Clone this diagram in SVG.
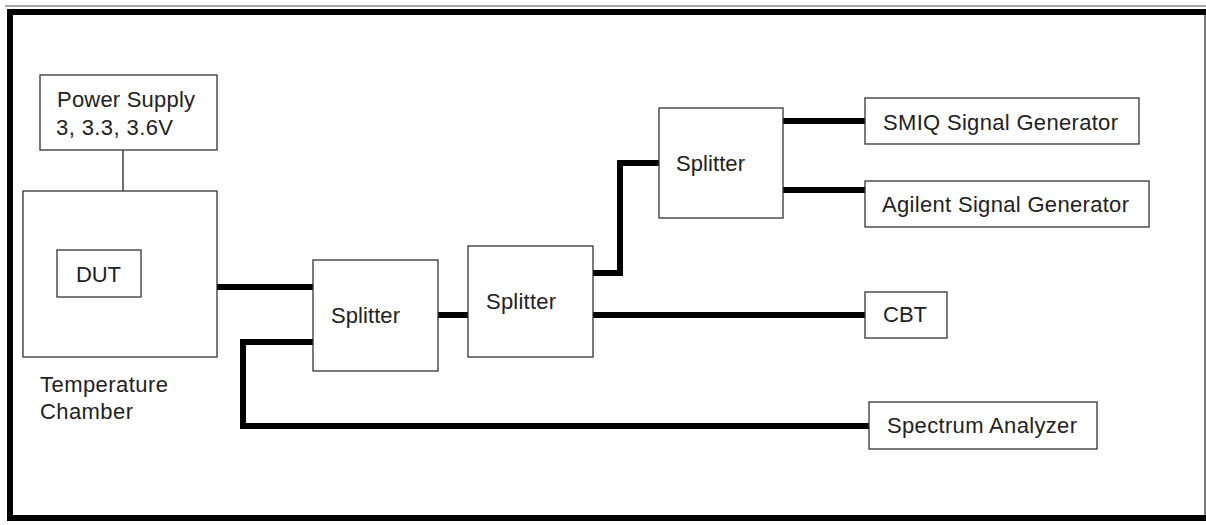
<svg xmlns="http://www.w3.org/2000/svg" width="1206" height="525" viewBox="0 0 1206 525">
<style>
.box{fill:#fff;stroke:#333;stroke-width:1.3}
.t{font-family:"Liberation Sans",Arial,sans-serif;font-size:22px;fill:#222}
.thick{fill:none;stroke:#000;stroke-width:6;stroke-linejoin:miter}
.thin{fill:none;stroke:#222;stroke-width:1.3}
</style>
<rect width="1206" height="525" fill="#fff"/>
<line x1="5" y1="6" x2="1206" y2="6" stroke="#8a8a8a" stroke-width="1.5"/>
<path d="M1205 12 V517" stroke="#333" stroke-width="1.3" fill="none"/>
<path d="M1206 12 H10 V518 H1206" stroke="#000" stroke-width="6" fill="none"/>
<g id="connectors">
<line class="thin" x1="123" y1="150" x2="123" y2="233"/>
<path class="thick" d="M217 287 H313"/>
<path class="thick" d="M438 315 H468"/>
<path class="thick" d="M313 342 H243 V426 H869"/>
<path class="thick" d="M593 273 H620 V163 H659"/>
<path class="thick" d="M593 315 H865"/>
<path class="thick" d="M783 121 H865"/>
<path class="thick" d="M783 190 H865"/>
</g>
<g id="power">
<rect class="box" x="40" y="75" width="177" height="75"/>
<text class="t" x="57" y="107" textLength="138">Power Supply</text>
<text class="t" x="56" y="135" textLength="117">3, 3.3, 3.6V</text>
</g>
<g id="chamber">
<rect class="box" x="23" y="191" width="194" height="166"/>
<text class="t" x="40" y="392" textLength="128">Temperature</text>
<text class="t" x="40" y="419" textLength="93">Chamber</text>
</g>
<g id="dut">
<rect class="box" x="57" y="250" width="84" height="47"/>
<text class="t" x="76" y="282" textLength="45">DUT</text>
</g>
<g id="splitter1">
<rect class="box" x="313" y="260" width="125" height="111"/>
<text class="t" x="331" y="323" textLength="69">Splitter</text>
</g>
<g id="splitter2">
<rect class="box" x="468" y="246" width="125" height="111"/>
<text class="t" x="486" y="309" textLength="70">Splitter</text>
</g>
<g id="splitter3">
<rect class="box" x="659" y="108" width="124" height="110"/>
<text class="t" x="676" y="171" textLength="69">Splitter</text>
</g>
<g id="smiq">
<rect class="box" x="865" y="98" width="274" height="46"/>
<text class="t" x="883" y="130" textLength="235">SMIQ Signal Generator</text>
</g>
<g id="agilent">
<rect class="box" x="865" y="181" width="284" height="46"/>
<text class="t" x="882" y="212" textLength="247">Agilent Signal Generator</text>
</g>
<g id="cbt">
<rect class="box" x="865" y="292" width="82" height="46"/>
<text class="t" x="883" y="322" textLength="44">CBT</text>
</g>
<g id="spectrum">
<rect class="box" x="869" y="402" width="228" height="47"/>
<text class="t" x="887" y="433" textLength="190">Spectrum Analyzer</text>
</g>
</svg>
